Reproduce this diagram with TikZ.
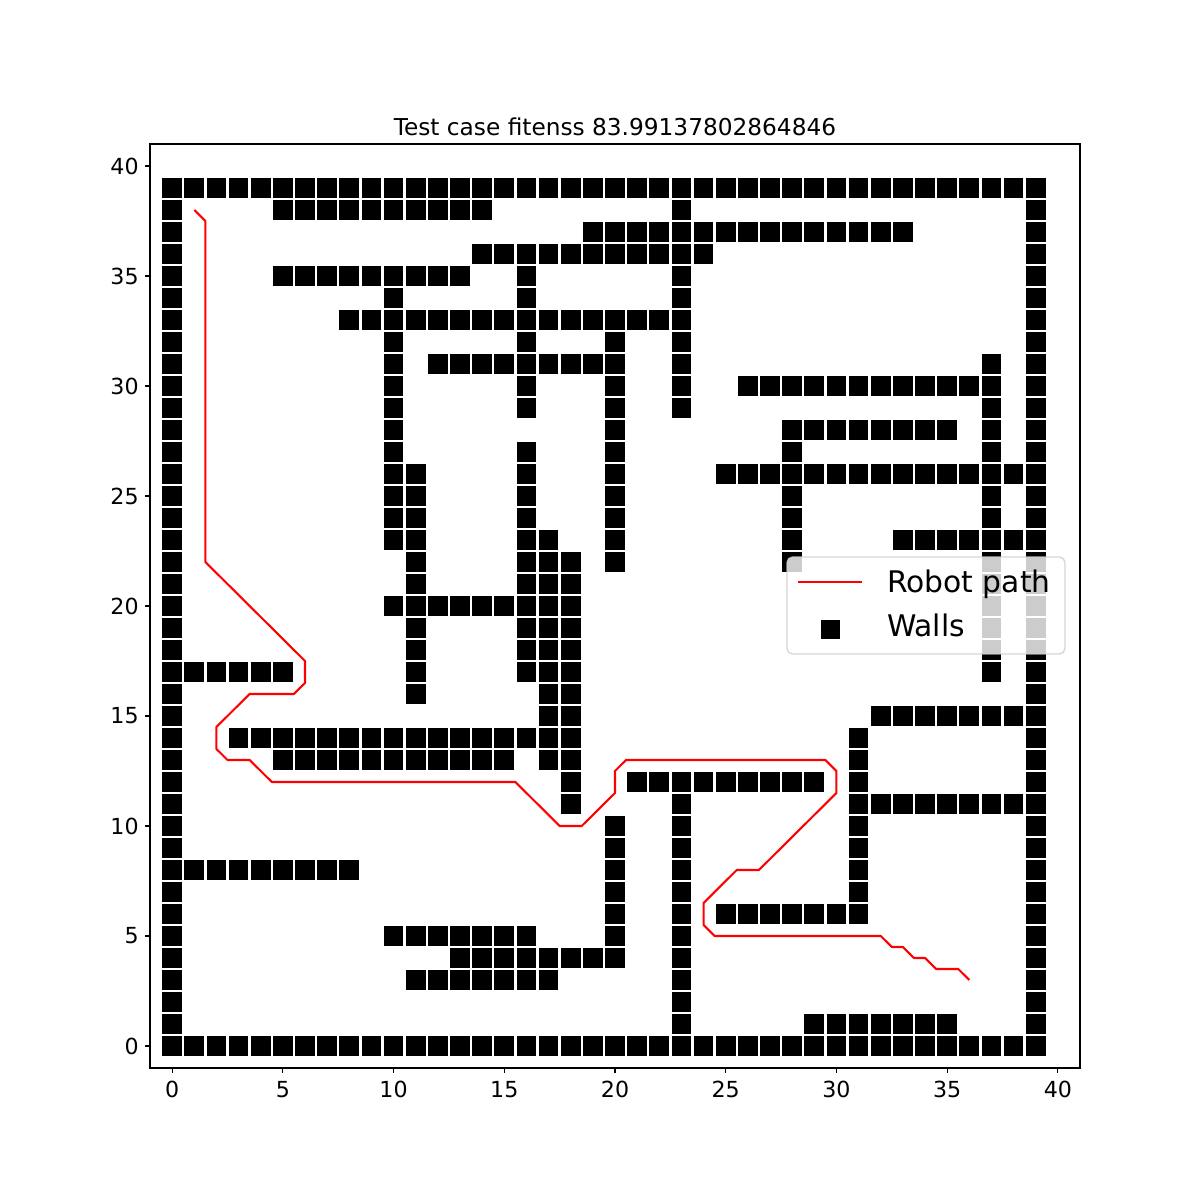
\documentclass[tikz,border=0pt]{standalone}
\usepackage{fontspec}
\setmainfont{DejaVu Sans}
\begin{document}
\begin{tikzpicture}[
    x=0.221429in, y=0.22in,
    wall/.style={fill=black},
    robotpath/.style={draw=red, line width=1.5pt, line join=round},
    spine/.style={draw=black, line width=0.8pt},
    ticklbl/.style={inner sep=0pt, font=\fontsize{16}{19}\selectfont},
    legendframe/.style={draw=black!20, fill=white, fill opacity=0.8, draw opacity=0.8, line width=1pt, rounded corners=4pt},
    legendlbl/.style={anchor=base west, inner sep=0pt, font=\fontsize{21.5}{25}\selectfont}
]
    \useasboundingbox (-7.774,-7) rectangle (46.419,47.5455);

    % Walls: horizontal runs (y/from/to)
    \foreach \y/\a/\b in {39/0/39, 0/0/39, 38/5/14, 37/19/33, 36/14/24, 35/5/13, 33/8/23,
                          31/12/20, 30/26/37, 28/28/35, 26/10/11, 26/25/38, 23/16/17, 23/33/38,
                          20/10/18, 17/0/5, 15/32/38, 14/3/18, 13/5/15, 12/21/29, 11/31/38,
                          8/0/8, 6/25/31, 5/10/16, 4/13/20, 3/11/17, 1/29/35}
        \foreach \x in {\a,...,\b}
            \fill[wall] (\x-0.445,\y-0.445) rectangle +(0.89,0.89);

    % Walls: vertical runs (x/from/to)
    \foreach \x/\a/\b in {0/0/39, 39/0/39, 10/23/34, 11/16/26, 16/29/35, 16/17/27, 17/13/23,
                          18/11/22, 20/22/32, 20/4/10, 23/29/38, 23/1/12, 28/22/28, 31/6/14, 37/17/31}
        \foreach \y in {\a,...,\b}
            \fill[wall] (\x-0.445,\y-0.445) rectangle +(0.89,0.89);

    % Robot path
    \draw[robotpath] (1,38) -- (1.5,37.5) -- (1.5,22) -- (6,17.5) -- (6,16.5) -- (5.5,16) -- (3.5,16)
        -- (2,14.5) -- (2,13.5) -- (2.5,13) -- (3.5,13) -- (4.5,12) -- (15.5,12) -- (17.5,10)
        -- (18.5,10) -- (20,11.5) -- (20,12.5) -- (20.5,13) -- (29.5,13) -- (30,12.5) -- (30,11.5)
        -- (26.5,8) -- (25.5,8) -- (24,6.5) -- (24,5.5) -- (24.5,5) -- (32,5) -- (32.5,4.5)
        -- (33,4.5) -- (33.5,4) -- (34,4) -- (34.5,3.5) -- (35.5,3.5) -- (36,3);

    % Axes frame and ticks
    \draw[spine] (-1,-1) rectangle (41,41);
    \foreach \t in {0,5,...,40} {
        \draw[spine] (-1,\t) -- (-1.2196,\t);
        \draw[spine] (\t,-1) -- (\t,-1.221);
        \node (ylbl\t) at (-1.5,\t) [ticklbl, anchor=east] {\t};
        \node (xlbl\t) at (\t,-1.577) [ticklbl, anchor=north] {\t};
    }

    % Title
    \node (title) at (20,41.377) [anchor=base, inner sep=0pt, font=\fontsize{16.8}{20}\selectfont] {Test case fitenss 83.99137802864846};

    % Legend
    \draw[legendframe] (27.768,17.818) rectangle (40.32,22.227);
    \coordinate (pathA) at (28.265,21.105);
    \coordinate (pathB) at (31.155,21.105);
    \draw[robotpath] (pathA) -- (pathB);
    \fill[wall] (29.725-0.436,18.932-0.44) rectangle +(0.872,0.88);
    \node (lblpath) at (32.28,20.623) [legendlbl] {Robot path};
    \node (lblwalls) at (32.28,18.605) [legendlbl] {Walls};
\end{tikzpicture}
\end{document}
